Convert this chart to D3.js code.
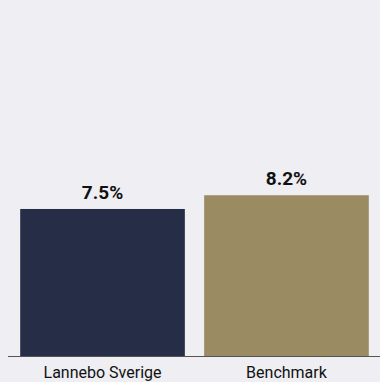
<!DOCTYPE html>
<html>
<head>
<meta charset="utf-8">
<script src="https://cdn.jsdelivr.net/npm/d3@7"></script>
<style>
  html, body { margin: 0; padding: 0; background: #eeeef3; }
  svg { display: block; }
</style>
</head>
<body>
<svg id="chart" width="380" height="382"></svg>
<script>
// データ
var categories = ['Lannebo Sverige', 'Benchmark'];
var values = [7.5, 8.2];
var valueLabels = ['7.5%', '8.2%'];
var colors = ['#252d47', '#9a8b62'];

var width = 380, height = 382;
var baseY = 356;

var svg = d3.select('#chart');

svg.append('rect')
  .attr('width', width)
  .attr('height', height)
  .attr('fill', '#eeeef3');

var x = d3.scaleBand()
  .domain(categories)
  .range([11, 378])
  .paddingInner(0.105)
  .paddingOuter(0.05);

var y = d3.scaleLinear()
  .domain([0, 18.16])
  .range([baseY, 0]);

// 棒
svg.selectAll('rect.bar')
  .data(values)
  .enter()
  .append('rect')
  .attr('class', 'bar')
  .attr('x', function(d, i) { return x(categories[i]); })
  .attr('y', function(d) { return y(d); })
  .attr('width', x.bandwidth())
  .attr('height', function(d) { return baseY - y(d); })
  .attr('fill', function(d, i) { return colors[i]; });

// 値ラベル
svg.selectAll('text.value')
  .data(values)
  .enter()
  .append('text')
  .attr('class', 'value')
  .attr('x', function(d, i) { return x(categories[i]) + x.bandwidth() / 2; })
  .attr('y', function(d) { return y(d) - 10; })
  .attr('text-anchor', 'middle')
  .style('font-family', 'Roboto, sans-serif')
  .style('font-weight', 'bold')
  .style('font-size', '19px')
  .style('fill', '#111')
  .text(function(d, i) { return valueLabels[i]; });

// 軸（カテゴリ名は下端ぎりぎり）
var axis = svg.append('g')
  .attr('transform', 'translate(0,' + baseY + ')')
  .call(d3.axisBottom(x).tickSize(0).tickPadding(11));

axis.select('.domain')
  .attr('d', 'M8,0.5H380')
  .attr('stroke', '#555');

axis.selectAll('text')
  .style('font-family', 'Roboto, sans-serif')
  .style('font-size', '16px')
  .style('fill', '#111');
</script>
</body>
</html>
